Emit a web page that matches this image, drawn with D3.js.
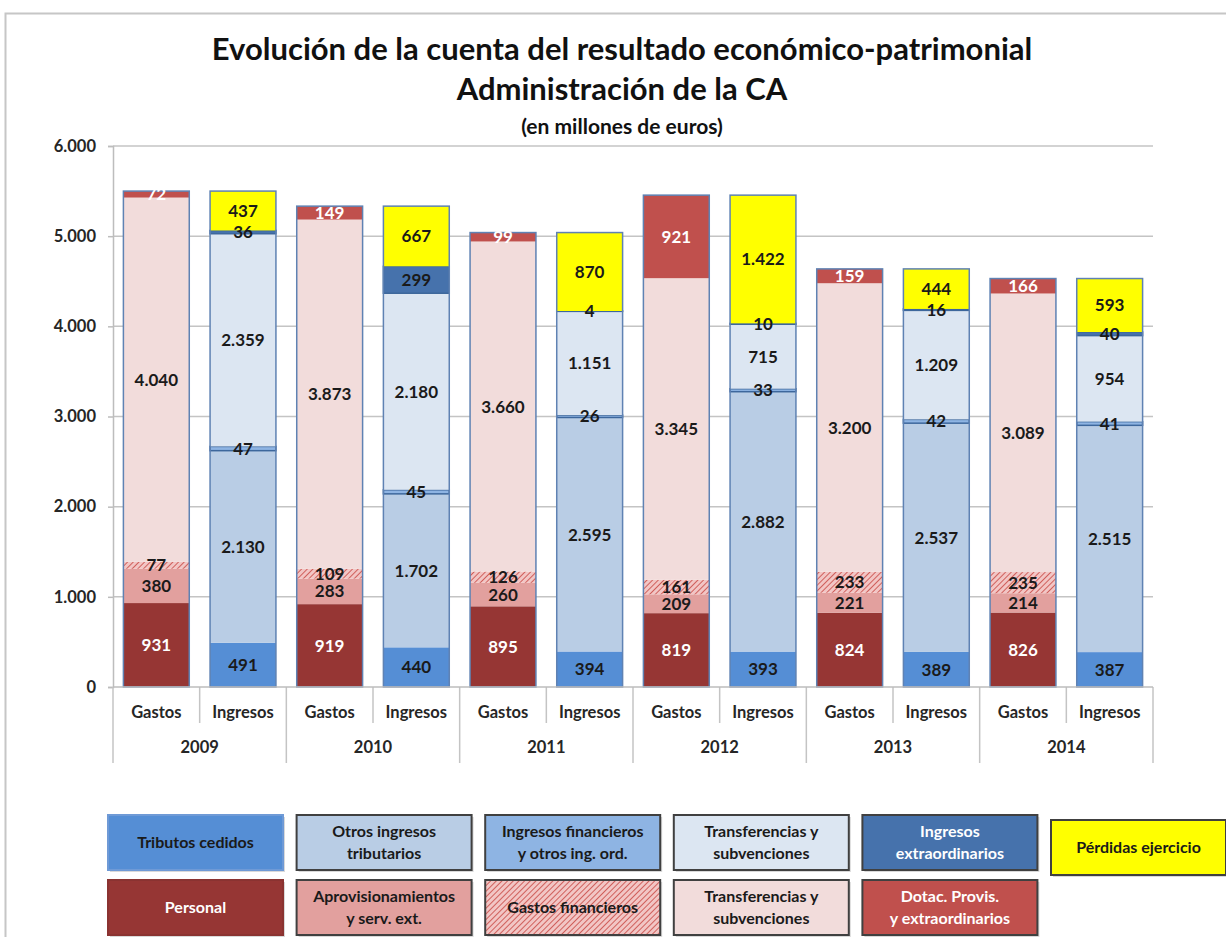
<!DOCTYPE html>
<html>
<head>
<meta charset="utf-8">
<script src="https://cdn.jsdelivr.net/npm/d3@7"></script>
<style>
  body { margin: 0; background: #fff; }
  text { font-family: Lato, "Open Sans", sans-serif; font-weight: bold; }
</style>
</head>
<body>
<div id="chart"></div>
<script>
// data (millones de euros)
var years = ["2009", "2010", "2011", "2012", "2013", "2014"];
var sides = ["Gastos", "Ingresos"];

// gastos, bottom to top
var personal = [931, 919, 895, 819, 824, 826];
var aprovisionamientos = [380, 283, 260, 209, 221, 214];
var gastosFinancieros = [77, 109, 126, 161, 233, 235];
var transfGastos = [4040, 3873, 3660, 3345, 3200, 3089];
var dotacProvis = [72, 149, 99, 921, 159, 166];

// ingresos, bottom to top
var tributosCedidos = [491, 440, 394, 393, 389, 387];
var otrosTributarios = [2130, 1702, 2595, 2882, 2537, 2515];
var ingFinancieros = [47, 45, 26, 33, 42, 41];
var transfIngresos = [2359, 2180, 1151, 715, 1209, 954];
var ingExtraordinarios = [36, 299, 4, 10, 16, 40];
var perdidas = [437, 667, 870, 1422, 444, 593];

var yTicks = [0, 1000, 2000, 3000, 4000, 5000, 6000];

// series definitions (name, values, side, look)
var series = [
  {key: "personal", label: ["Personal"], values: personal, side: "Gastos", fill: "#963634", text: "#fff"},
  {key: "aprov", label: ["Aprovisionamientos", "y serv. ext."], values: aprovisionamientos, side: "Gastos", fill: "#e2a09e", text: "#1a1a1a"},
  {key: "gfin", label: ["Gastos financieros"], values: gastosFinancieros, side: "Gastos", fill: "url(#hatch)", text: "#1a1a1a"},
  {key: "transfG", label: ["Transferencias y", "subvenciones"], values: transfGastos, side: "Gastos", fill: "#f2dcdb", text: "#1a1a1a"},
  {key: "dotac", label: ["Dotac. Provis.", "y extraordinarios"], values: dotacProvis, side: "Gastos", fill: "#c0504d", text: "#fff"},
  {key: "tributos", label: ["Tributos cedidos"], values: tributosCedidos, side: "Ingresos", fill: "#558ed5", text: "#1a1a1a"},
  {key: "otros", label: ["Otros ingresos", "tributarios"], values: otrosTributarios, side: "Ingresos", fill: "#b9cde5", text: "#1a1a1a"},
  {key: "ifin", label: ["Ingresos financieros", "y otros ing. ord."], values: ingFinancieros, side: "Ingresos", fill: "#8eb4e3", text: "#1a1a1a"},
  {key: "transfI", label: ["Transferencias y", "subvenciones"], values: transfIngresos, side: "Ingresos", fill: "#dce6f2", text: "#1a1a1a"},
  {key: "iextra", label: ["Ingresos", "extraordinarios"], values: ingExtraordinarios, side: "Ingresos", fill: "#4672ac", text: "#1a1a1a"},
  {key: "perdidas", label: ["Pérdidas ejercicio"], values: perdidas, side: "Ingresos", fill: "#ffff00", text: "#1a1a1a"}
];

// legend layout: [series key, column, row]
var legendOrder = [
  ["tributos", 0, 0], ["otros", 1, 0], ["ifin", 2, 0], ["transfI", 3, 0], ["iextra", 4, 0], ["perdidas", 5, 0],
  ["personal", 0, 1], ["aprov", 1, 1], ["gfin", 2, 1], ["transfG", 3, 1], ["dotac", 4, 1]
];

var svgWidth = 1226;
var svgHeight = 937;
var margin = {top: 146, right: 73, bottom: 250, left: 113};
var width = svgWidth - margin.left - margin.right;
var height = svgHeight - margin.top - margin.bottom;

var es = d3.formatLocale({decimal: ",", thousands: ".", grouping: [3], currency: ["", " €"]});
var fmt = es.format(",d");

var svg = d3.select("#chart").append("svg")
  .attr("width", svgWidth)
  .attr("height", svgHeight);

// hatch pattern for gastos financieros
var defs = svg.append("defs");
var pat = defs.append("pattern")
  .attr("id", "hatch")
  .attr("patternUnits", "userSpaceOnUse")
  .attr("width", 4)
  .attr("height", 4)
  .attr("patternTransform", "rotate(45)");
pat.append("rect").attr("width", 4).attr("height", 4).attr("fill", "#f2c6c5");
pat.append("line").attr("x1", 0).attr("y1", 0).attr("x2", 0).attr("y2", 4)
  .attr("stroke", "#d0605c").attr("stroke-width", 2);

// outer frame
svg.append("rect")
  .attr("x", 5.5).attr("y", 13.5)
  .attr("width", 1400).attr("height", 1100)
  .attr("fill", "none")
  .attr("stroke", "#c6c6c6")
  .attr("stroke-width", 2);

// titles
svg.append("text").attr("x", 622).attr("y", 60).attr("text-anchor", "middle")
  .attr("font-size", "31px").attr("fill", "#111")
  .text("Evolución de la cuenta del resultado económico-patrimonial");
svg.append("text").attr("x", 622).attr("y", 100).attr("text-anchor", "middle")
  .attr("font-size", "31px").attr("fill", "#111")
  .text("Administración de la CA");
svg.append("text").attr("x", 622).attr("y", 134).attr("text-anchor", "middle")
  .attr("font-size", "21px").attr("fill", "#111")
  .text("(en millones de euros)");

var chartGroup = svg.append("g")
  .attr("transform", `translate(${margin.left}, ${margin.top})`);

// scales
var x0 = d3.scaleBand().domain(years).range([0, width]).padding(0);
var x1 = d3.scaleBand().domain(sides).range([0, x0.bandwidth()]).paddingInner(0.24).paddingOuter(0.12);
var y = d3.scaleLinear().domain([0, 6000]).range([height, 0]);

// gridlines
chartGroup.append("g")
  .selectAll("line")
  .data(yTicks.filter(d => d > 0))
  .enter()
  .append("line")
  .attr("x1", 0).attr("x2", width)
  .attr("y1", d => y(d)).attr("y2", d => y(d))
  .attr("stroke", "#c4c4c4")
  .attr("stroke-width", 1.5);

// y axis
var leftAxis = d3.axisLeft(y).tickValues(yTicks).tickFormat(fmt).tickSize(5).tickPadding(12);
var yAxis = chartGroup.append("g").call(leftAxis);
yAxis.select(".domain").attr("stroke", "#bdbdbd").attr("stroke-width", 1.5);
yAxis.selectAll(".tick line").attr("stroke", "#bdbdbd").attr("stroke-width", 1.5);
yAxis.selectAll(".tick text")
  .attr("font-size", "16.5px")
  .attr("font-family", "Lato, sans-serif")
  .attr("font-weight", "bold")
  .attr("fill", "#262626");

// stacked segments
years.forEach(function(yr, i) {
  sides.forEach(function(side) {
    var base = 0;
    var bx = x0(yr) + x1(side);
    var bw = x1.bandwidth();
    var segs = series.filter(s => s.side === side).map(function(s) {
      var seg = {s: s, y0: base, y1: base + s.values[i], v: s.values[i]};
      base += s.values[i];
      return seg;
    });
    var barG = chartGroup.append("g");
    barG.selectAll("rect.seg")
      .data(segs)
      .enter()
      .append("rect")
      .attr("class", "seg")
      .attr("x", bx)
      .attr("width", bw)
      .attr("y", d => y(d.y1))
      .attr("height", d => y(d.y0) - y(d.y1))
      .attr("fill", d => d.s.fill)
      .attr("stroke", d => d.s.key === "ifin" || d.s.key === "iextra" ? "#3d679c" : "none")
      .attr("stroke-width", 1.5);
    // whole bar outline
    barG.append("rect")
      .attr("x", bx).attr("width", bw)
      .attr("y", y(base)).attr("height", y(0) - y(base))
      .attr("fill", "none")
      .attr("stroke", "#5f82b3")
      .attr("stroke-width", 1.5);
    barG.selectAll("text")
      .data(segs)
      .enter()
      .append("text")
      .attr("x", bx + bw / 2)
      .attr("y", d => (y(d.y0) + y(d.y1)) / 2)
      .attr("dy", "0.36em")
      .attr("text-anchor", "middle")
      .attr("font-size", "17px")
      .attr("fill", d => d.s.text)
      .text(d => fmt(d.v));
  });
});

// category axis: sides then years
var catG = chartGroup.append("g").attr("transform", `translate(0, ${height})`);
years.forEach(function(yr) {
  sides.forEach(function(side) {
    catG.append("text")
      .attr("x", x0(yr) + x1(side) + x1.bandwidth() / 2)
      .attr("y", 25)
      .attr("dy", "0.36em")
      .attr("text-anchor", "middle")
      .attr("font-size", "16.5px")
      .attr("fill", "#262626")
      .text(side);
  });
  // separator between the two bars
  catG.append("line")
    .attr("x1", x0(yr) + x0.bandwidth() / 2).attr("x2", x0(yr) + x0.bandwidth() / 2)
    .attr("y1", 0).attr("y2", 36)
    .attr("stroke", "#c4c4c4").attr("stroke-width", 1.5);
  catG.append("text")
    .attr("x", x0(yr) + x0.bandwidth() / 2)
    .attr("y", 60)
    .attr("dy", "0.36em")
    .attr("text-anchor", "middle")
    .attr("font-size", "16.5px")
    .attr("fill", "#262626")
    .text(yr);
});
catG.selectAll("line.ysep")
  .data(years.concat(["end"]))
  .enter()
  .append("line")
  .attr("class", "ysep")
  .attr("x1", (d, i) => i < years.length ? x0(d) : width)
  .attr("x2", (d, i) => i < years.length ? x0(d) : width)
  .attr("y1", 0).attr("y2", 76)
  .attr("stroke", "#c4c4c4").attr("stroke-width", 1.5);
catG.append("line")
  .attr("x1", 0).attr("x2", width).attr("y1", 0).attr("y2", 0)
  .attr("stroke", "#bdbdbd").attr("stroke-width", 1.5);

// legend boxes
var legendG = svg.append("g");
var boxW = 175, boxH = 55;
legendOrder.forEach(function(item) {
  var s = series.find(d => d.key === item[0]);
  var lx = 108 + item[1] * 188.6;
  var ly = 815 + item[2] * 65 + (item[0] === "perdidas" ? 5 : 0);
  var g = legendG.append("g").attr("transform", `translate(${lx}, ${ly})`);
  // shadow
  g.append("rect").attr("x", 2).attr("y", 2).attr("width", boxW).attr("height", boxH)
    .attr("fill", "#d9d9d9");
  g.append("rect").attr("width", boxW).attr("height", boxH)
    .attr("fill", s.fill)
    .attr("stroke", s.key === "tributos" ? "#6f9ad6" : (s.key === "personal" ? "#8a3331" : "#404040"))
    .attr("stroke-width", 2);
  var t = g.append("text")
    .attr("x", boxW / 2)
    .attr("text-anchor", "middle")
    .attr("font-size", "16px")
    .attr("fill", s.text === "#fff" || s.key === "iextra" ? "#fff" : "#1a1a1a");
  var startY = boxH / 2 - (s.label.length - 1) * 11;
  s.label.forEach(function(line, k) {
    t.append("tspan")
      .attr("x", boxW / 2)
      .attr("y", startY + k * 22)
      .attr("dy", "0.36em")
      .text(line);
  });
});
</script>
</body>
</html>
